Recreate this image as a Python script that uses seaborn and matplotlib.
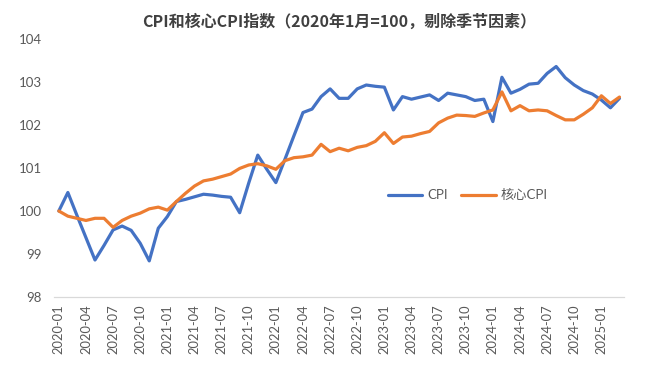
import numpy as np
import pandas as pd
import seaborn as sns
import matplotlib
matplotlib.use("Agg")
import matplotlib.pyplot as plt

months = [str(p) for p in pd.period_range("2020-01", "2025-03", freq="M")]

cpi = [100.0, 100.43, 99.9, 99.38, 98.86, 99.2, 99.56, 99.65, 99.55, 99.25,
       98.84, 99.6, 99.87, 100.22, 100.27, 100.33, 100.39, 100.37, 100.34, 100.32,
       99.96, 100.65, 101.3, 100.97, 100.66, 101.2, 101.75, 102.29, 102.37, 102.66,
       102.84, 102.62, 102.62, 102.84, 102.93, 102.9, 102.88, 102.35, 102.66, 102.6,
       102.65, 102.7, 102.57, 102.74, 102.7, 102.66, 102.57, 102.6, 102.08, 103.11,
       102.74, 102.83, 102.95, 102.97, 103.2, 103.36, 103.1, 102.93, 102.8, 102.72,
       102.58, 102.4, 102.62]

core_cpi = [100.0, 99.88, 99.83, 99.78, 99.83, 99.83, 99.62, 99.78, 99.88, 99.95,
            100.05, 100.09, 100.02, 100.22, 100.41, 100.58, 100.7, 100.74, 100.8, 100.86,
            100.99, 101.07, 101.1, 101.05, 100.97, 101.17, 101.24, 101.26, 101.3, 101.55,
            101.38, 101.46, 101.4, 101.48, 101.52, 101.62, 101.82, 101.57, 101.72, 101.74,
            101.8, 101.85, 102.05, 102.16, 102.23, 102.22, 102.2, 102.28, 102.35, 102.77,
            102.33, 102.45, 102.33, 102.35, 102.33, 102.22, 102.12, 102.12, 102.25, 102.4,
            102.68, 102.5, 102.65]

series_names = ["CPI", "核心CPI"]
yticks = [98, 99, 100, 101, 102, 103, 104]
title = "CPI和核心CPI指数（2020年1月=100，剔除季节因素）"

df = pd.DataFrame({
    "idx": list(range(len(months))) * 2,
    "value": cpi + core_cpi,
    "series": [series_names[0]] * len(cpi) + [series_names[1]] * len(core_cpi),
})

sns.set_theme(style="white")
plt.rcParams["font.family"] = ["Lato", "Noto Sans CJK SC", "DejaVu Sans"]

fig = plt.figure(figsize=(6.6, 3.81), dpi=100)
ax = fig.add_axes([54.3 / 660, 1 - 297 / 381, (624 - 54.3) / 660, (297 - 39) / 381])

sns.lineplot(data=df, x="idx", y="value", hue="series", palette=["#4472C4", "#ED7D31"],
             linewidth=2.3, ax=ax, legend=True)
for ln in ax.lines:
    ln.set_solid_joinstyle("round")
    ln.set_solid_capstyle("round")

ax.set_xlim(-0.5, len(months) - 0.5)
ax.set_ylim(98, 104)
ax.set_yticks(yticks)
ax.set_yticklabels([str(v) for v in yticks])
ax.set_xticks(list(range(0, len(months), 3)))
ax.set_xticklabels(months[::3], rotation=90)
ax.set_xticks(list(np.arange(-0.5, len(months), 3)), minor=True)
ax.tick_params(axis="x", which="major", length=0, pad=5, labelsize=9.3, labelcolor="#595959")
ax.tick_params(axis="x", which="minor", length=4, width=0.8, color="#BFBFBF", direction="out")
ax.tick_params(axis="y", length=0, pad=9, labelsize=9.5, labelcolor="#595959")
ax.set_xlabel("")
ax.set_ylabel("")
for s in ["left", "right", "top"]:
    ax.spines[s].set_visible(False)
ax.spines["bottom"].set_color("#D9D9D9")
ax.spines["bottom"].set_linewidth(0.9)
ax.grid(False)

handles, labels = ax.get_legend_handles_labels()
leg = ax.legend(handles, labels, loc="center", bbox_to_anchor=(0.726, 0.395), ncol=2,
                frameon=False, fontsize=9.5, handlelength=2.6, columnspacing=1.0,
                handletextpad=0.4)
for t in leg.get_texts():
    t.set_color("#595959")
for h in leg.legend_handles:
    h.set_linewidth(2.3)

fig.text(339 / 660, 1 - 22 / 381, title, ha="center", va="center", fontsize=11.5,
         fontweight="bold", color="#404040", family=["Noto Sans CJK SC", "DejaVu Sans"])

fig.savefig("out.png", dpi=100)
